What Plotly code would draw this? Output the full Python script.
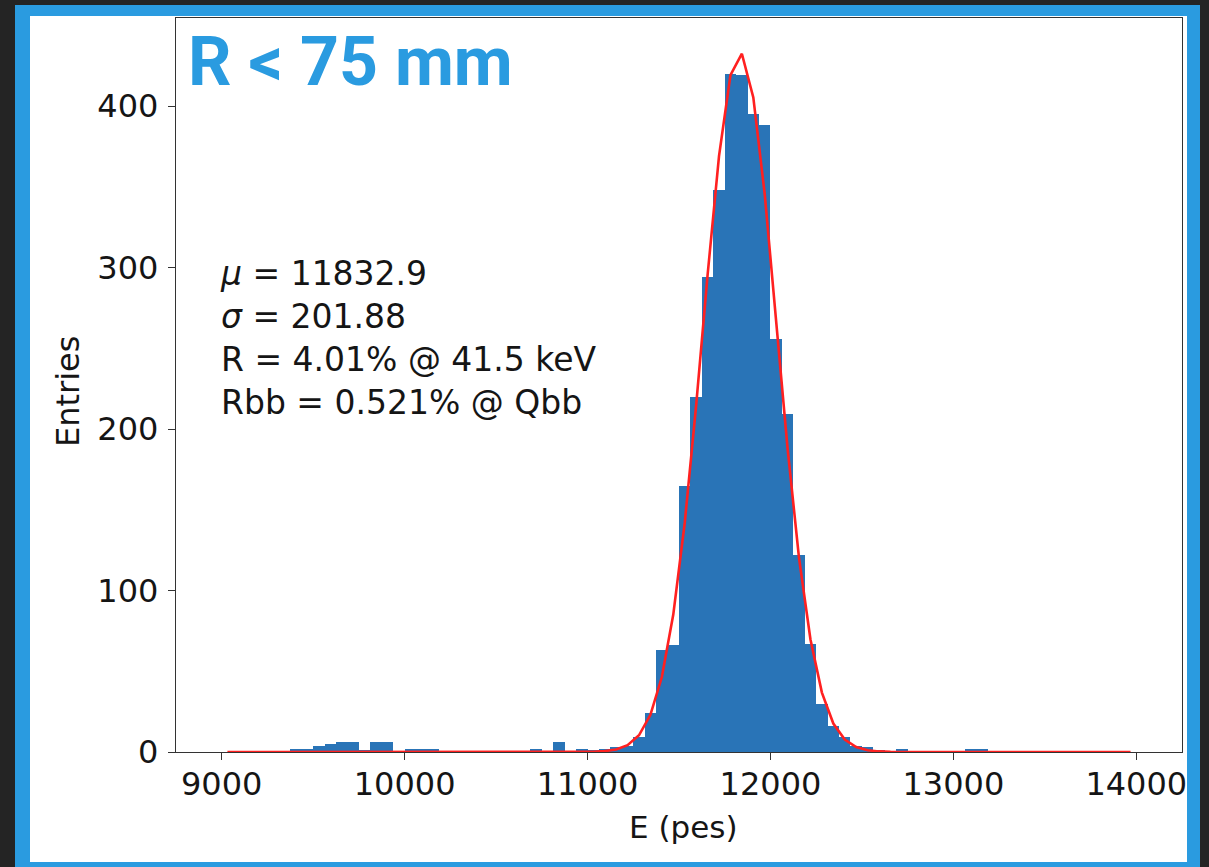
import plotly.graph_objects as go
import numpy as np

# ---- data ----
bin_start = 9000.0
bin_width = 62.5
counts = [0, 0, 0, 0, 0, 0, 2, 2, 4, 5,
          6, 6, 1, 6, 6, 0, 2, 2, 2, 0,
          0, 0, 0, 0, 0, 0, 0, 2, 0, 6,
          0, 2, 1, 2, 3, 4, 9, 24, 63, 66,
          165, 220, 294, 348, 420, 419, 395, 388, 256, 209,
          122, 67, 30, 16, 9, 4, 3, 1, 0, 2,
          0, 0, 0, 0, 0, 2, 2, 0, 0, 0,
          0, 0, 0, 0, 0, 0, 0, 0, 0, 0]
fit_mu = 11832.9
fit_sigma = 201.88
fit_amp = 433.0
x_ticks = [9000, 10000, 11000, 12000, 13000, 14000]
y_ticks = [0, 100, 200, 300, 400]
stats_lines = ["<i>μ</i> = 11832.9", "<i>σ</i> = 201.88",
               "R = 4.01% @ 41.5 keV", "Rbb = 0.521% @ Qbb"]
title_text = "R < 75 mm"

centers = [bin_start + bin_width * (i + 0.5) for i in range(len(counts))]
fit_y = [fit_amp * np.exp(-(c - fit_mu) ** 2 / (2 * fit_sigma ** 2)) for c in centers]

# ---- geometry (pixels) ----
W, H = 1209, 867
L, R, T, B = 176, 1182, 18, 752
PW, PH = R - L, B - T
def px(p):
    return (p - L) / PW
def py(p):
    return (B - p) / PH

FONT = "DejaVu Sans, sans-serif"
BLUE = "#2A9BE0"
TXT = "#151515"

fig = go.Figure()
fig.add_trace(go.Bar(x=centers, y=counts, width=bin_width,
                     marker=dict(color="#2974B7", line=dict(width=0)),
                     showlegend=False))
fig.add_trace(go.Scatter(x=centers, y=fit_y, mode="lines",
                         line=dict(color="#FF2020", width=2.6),
                         showlegend=False))

shapes = [
    dict(type="rect", xref="paper", yref="paper", layer="below",
         x0=px(15), x1=px(1200), y0=py(5), y1=py(870),
         fillcolor=BLUE, line=dict(width=0)),
    dict(type="rect", xref="paper", yref="paper", layer="below",
         x0=px(30), x1=px(1187), y0=py(16), y1=py(862),
         fillcolor="white", line=dict(width=0)),
]

annotations = [
    dict(text=title_text, xref="paper", yref="paper", x=px(186), y=py(62),
         xanchor="left", yanchor="middle", showarrow=False,
         font=dict(family="Roboto, sans-serif", size=68, color=BLUE, weight="bold")),
    dict(text="Entries", xref="paper", yref="paper", x=px(68), y=py(392),
         xanchor="center", yanchor="middle", textangle=-90, showarrow=False,
         font=dict(family=FONT, size=32, color=TXT)),
    dict(text="E (pes)", xref="paper", yref="paper", x=px(683), y=py(827),
         xanchor="center", yanchor="middle", showarrow=False,
         font=dict(family=FONT, size=31, color=TXT)),
    dict(text="<br>".join(stats_lines), xref="paper", yref="paper",
         x=px(218), y=py(338), xanchor="left", yanchor="middle", align="left",
         showarrow=False, font=dict(family=FONT, size=33, color=TXT)),
]

axis_common = dict(showgrid=False, zeroline=False, showline=True, mirror=True,
                   linecolor="#333", linewidth=1.3, ticks="outside", ticklen=7,
                   tickwidth=1.3, tickcolor="#333",
                   tickfont=dict(family=FONT, size=32, color=TXT))

fig.update_layout(
    width=W, height=H,
    margin=dict(l=L, r=W - R, t=T, b=H - B),
    paper_bgcolor="#242424", plot_bgcolor="white",
    bargap=0, shapes=shapes, annotations=annotations,
    xaxis=dict(range=[8750, 14250], tickvals=x_ticks,
               ticktext=[str(v) for v in x_ticks], ticklabelstandoff=-4,
               **axis_common),
    yaxis=dict(range=[0, 454.5], tickvals=y_ticks,
               ticktext=[str(v) for v in y_ticks], ticklabelstandoff=3,
               **axis_common),
)

fig.write_html("out.html")
